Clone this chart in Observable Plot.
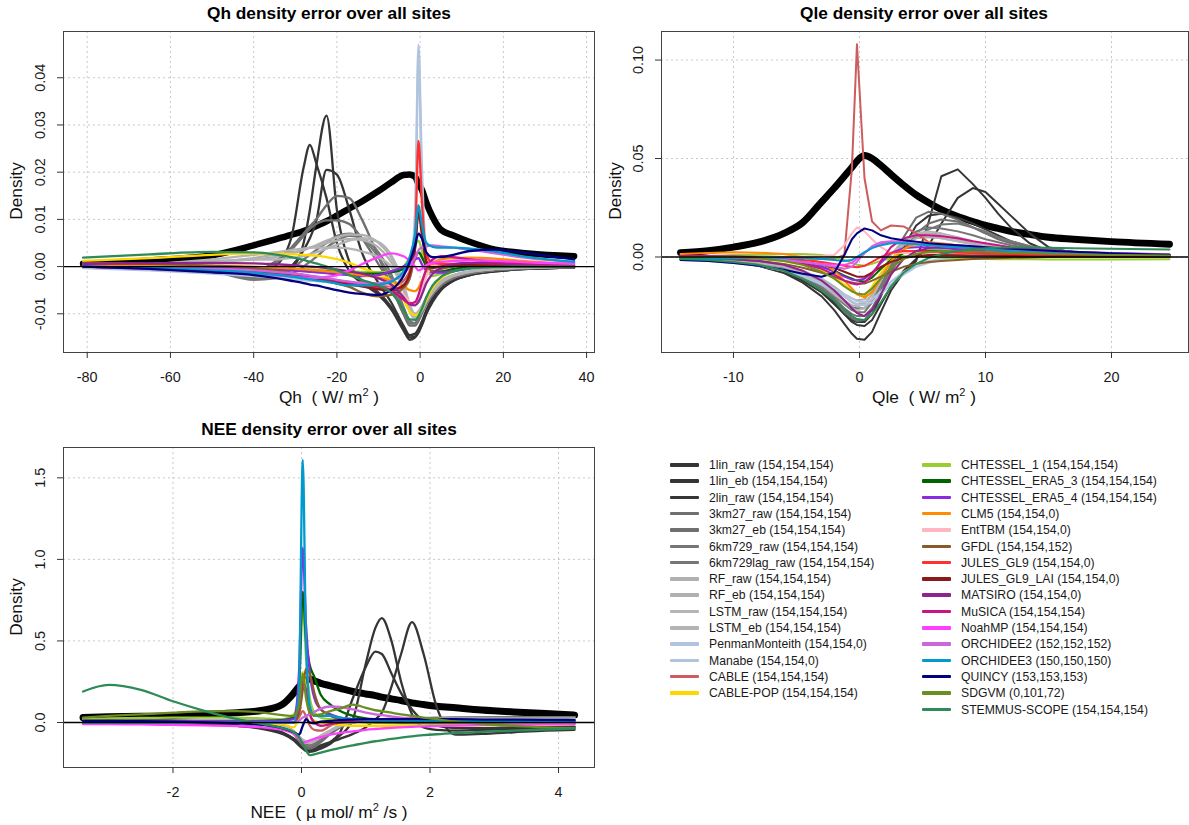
<!DOCTYPE html>
<html><head><meta charset="utf-8">
<script src="https://cdn.jsdelivr.net/npm/d3@7"></script>
<script src="https://cdn.jsdelivr.net/npm/@observablehq/plot@0.6"></script>
<style>
body{margin:0;background:#fff;font-family:"Liberation Sans",Arial,Helvetica,sans-serif;}
#root{position:relative;width:1189px;height:825px;overflow:hidden;background:#fff;}
.panel{position:absolute;}
.title{position:absolute;font-weight:bold;font-size:17.3px;transform:translate(-50%,-50%);white-space:nowrap;color:#000;}
.xlab{position:absolute;font-size:17.3px;transform:translate(-50%,-50%);white-space:nowrap;color:#111;}
.xlab sup{font-size:11px;vertical-align:7px;line-height:0;}
.ylab{position:absolute;font-size:17.3px;transform:translate(-50%,-50%) rotate(-90deg);white-space:nowrap;color:#111;}
.legrow{position:absolute;height:16px;font-size:12.2px;color:#1a1a1a;white-space:nowrap;}
.legrow span.sw{position:absolute;left:0;top:6px;width:29px;height:3.6px;border-radius:1px;}
.legrow span.tx{position:absolute;left:39px;top:0;line-height:16px;}
</style></head>
<body><div id="root"></div>
<script>
// ---------------- series ----------------
const seriesNames = ["1lin_raw","1lin_eb","2lin_raw","3km27_raw","3km27_eb","6km729_raw","6km729lag_raw","RF_raw","RF_eb","LSTM_raw","LSTM_eb","PenmanMonteith","Manabe","CABLE","CABLE-POP","CHTESSEL_1","CHTESSEL_ERA5_3","CHTESSEL_ERA5_4","CLM5","EntTBM","GFDL","JULES_GL9","JULES_GL9_LAI","MATSIRO","MuSICA","NoahMP","ORCHIDEE2","ORCHIDEE3","QUINCY","SDGVM","STEMMUS-SCOPE"];
const qhSites  = [154,154,154,154,154,154,154,154,154,154,154,154,154,154,154,154,154,154,154,154,154,154,154,154,154,154,152,150,153,0,154];
const qleSites = [154,154,154,154,154,154,154,154,154,154,154,154,154,154,154,154,154,154,154,154,154,154,154,154,154,154,152,150,153,101,154];
const neeSites = [154,154,154,154,154,154,154,154,154,154,154,0,0,154,154,154,154,154,0,0,152,0,0,0,154,154,152,150,153,72,154];
const seriesColors = ["#353535","#353535","#353535","#6f6f6f","#6f6f6f","#767676","#767676","#b0b0b0","#b0b0b0","#b4b4b4","#b4b4b4","#b0c4de","#b0c4de","#cd5c5c","#ffd700","#9acd32","#006400","#8a2be2","#ff8c00","#ffb6c1","#8b5a2b","#ff3030","#8b1a1a","#8e2490","#c71585","#ff40ff","#cc66dd","#009acd","#000080","#6b8e23","#2e8b57"];

// ---------------- Qh panel ----------------
const qhX = [-81,-65,-50,-40,-35,-31,-28,-26.5,-25,-22.5,-20,-17,-14,-10,-7,-4,-2.5,-1.2,-0.4,0.4,1.5,3,5,8,12,18,26,37];
const qhObs = [0.0006,0.0013,0.0024,0.0045,0.0057,0.0067,0.0075,0.008,0.0086,0.0096,0.0108,0.0123,0.0138,0.016,0.0178,0.0194,0.0195,0.019,0.0175,0.0163,0.0135,0.0105,0.0078,0.0066,0.0052,0.0036,0.0028,0.0022];
const qhDensity = [
/*1lin_raw*/ [0,-0.0003,-0.0008,-0.0015,0,0.006,0.021,0.0258,0.022,0.0145,0.005,-0.001,-0.0035,-0.006,-0.009,-0.0135,-0.0155,-0.015,-0.014,-0.0125,-0.01,-0.0075,-0.005,-0.003,-0.0018,-0.001,-0.0005,-0.0002],
/*1lin_eb*/ [0,-0.0003,-0.0009,-0.002,-0.0022,-0.0005,0.005,0.012,0.021,0.032,0.012,0.001,-0.003,-0.0055,-0.0085,-0.013,-0.015,-0.0148,-0.0138,-0.0122,-0.0097,-0.0072,-0.0049,-0.003,-0.0018,-0.001,-0.0005,-0.0002],
/*2lin_raw*/ [0,-0.0003,-0.001,-0.0025,-0.002,0,0.0035,0.006,0.0095,0.0205,0.0195,0.012,0.003,-0.0035,-0.0075,-0.0125,-0.0145,-0.0142,-0.0132,-0.0117,-0.0092,-0.0067,-0.0046,-0.0028,-0.0016,-0.0009,-0.0004,-0.0002],
/*3km27_raw*/ [0,0,-0.0005,-0.001,0.001,0.004,0.007,0.0085,0.01,0.013,0.015,0.0145,0.01,0.002,-0.004,-0.01,-0.0125,-0.0125,-0.0115,-0.01,-0.008,-0.006,-0.004,-0.0025,-0.0015,-0.0008,-0.0004,-0.0001],
/*3km27_eb*/ [0,0,-0.0005,-0.0012,0.0005,0.0035,0.0065,0.008,0.009,0.0098,0.0098,0.009,0.006,0.0005,-0.004,-0.01,-0.012,-0.012,-0.011,-0.0095,-0.0075,-0.0055,-0.0038,-0.0023,-0.0014,-0.0007,-0.0003,-0.0001],
/*6km729_raw*/ [0,0,-0.001,-0.0025,-0.002,-0.0005,0.0015,0.0025,0.0035,0.005,0.0065,0.007,0.006,0.002,-0.0025,-0.009,-0.012,-0.012,-0.011,-0.0095,-0.0075,-0.0055,-0.0038,-0.0023,-0.0014,-0.0007,-0.0003,-0.0001],
/*6km729lag_raw*/ [0,-0.0002,-0.001,-0.0028,-0.0025,-0.0015,0,0.001,0.002,0.004,0.0055,0.0065,0.006,0.003,-0.0015,-0.0085,-0.0115,-0.012,-0.011,-0.0095,-0.0075,-0.0055,-0.0038,-0.0023,-0.0014,-0.0007,-0.0003,-0.0001],
/*RF_raw*/ [0,0.0005,0.0012,0.0015,0.002,0.0028,0.0035,0.004,0.0045,0.0055,0.0062,0.0068,0.0067,0.005,0.002,-0.004,-0.0085,-0.01,-0.0095,-0.0085,-0.0065,-0.0045,-0.003,-0.0018,-0.001,-0.0005,-0.0002,0],
/*RF_eb*/ [0,0.0003,0.001,0.0018,0.0025,0.003,0.0035,0.004,0.0042,0.005,0.0055,0.0058,0.0056,0.004,0.001,-0.0045,-0.009,-0.0105,-0.01,-0.009,-0.007,-0.005,-0.0032,-0.002,-0.0011,-0.0005,-0.0002,0],
/*LSTM_raw*/ [0,0.0005,0.0015,0.0025,0.003,0.0035,0.0038,0.004,0.004,0.004,0.004,0.0038,0.0032,0.002,0,-0.005,-0.0095,-0.011,-0.0105,-0.0095,-0.0075,-0.0055,-0.0035,-0.002,-0.0011,-0.0005,-0.0002,0],
/*LSTM_eb*/ [0,0.0002,0.0008,0.0015,0.0015,0.0018,0.0022,0.0026,0.003,0.0038,0.0046,0.0055,0.006,0.0052,0.0025,-0.0035,-0.008,-0.01,-0.0095,-0.0085,-0.0065,-0.0045,-0.003,-0.0018,-0.001,-0.0005,-0.0002,0],
/*PenmanMonteith*/ [-0.0002,-0.0006,-0.0012,-0.0015,-0.0018,-0.002,-0.0023,-0.0025,-0.0026,-0.0028,-0.003,-0.0033,-0.0036,-0.004,-0.004,-0.0035,-0.001,0.012,0.047,0.022,0.002,-0.0005,0.0005,0.0012,0.0015,0.0013,0.0008,0.0004],
/*Manabe*/ [-0.0003,-0.0008,-0.0015,-0.002,-0.0023,-0.0026,-0.0029,-0.003,-0.0031,-0.0033,-0.0035,-0.0038,-0.0042,-0.0045,-0.0048,-0.0045,-0.0025,0.008,0.044,0.018,0,-0.002,-0.0015,-0.0005,0,0.0002,0.0001,0],
/*CABLE*/ [0,-0.0003,-0.0007,-0.001,-0.0013,-0.0016,-0.002,-0.0022,-0.0024,-0.0028,-0.0032,-0.0036,-0.004,-0.0042,-0.0042,-0.003,-0.001,0.0015,0.003,0.0025,0.001,0.0005,0.0005,0.0005,0.0004,0.0002,0.0001,0],
/*CABLE-POP*/ [0.0012,0.0018,0.0025,0.0028,0.0027,0.0026,0.0025,0.0024,0.0023,0.002,0.0016,0.0008,-0.0003,-0.0015,-0.003,-0.007,-0.0095,-0.0103,-0.01,-0.009,-0.007,-0.0045,-0.0025,-0.001,-0.0003,0,0,0],
/*CHTESSEL_1*/ [0.0001,0,-0.0002,-0.0003,-0.0004,-0.0005,-0.0006,-0.0006,-0.0007,-0.0008,-0.0009,-0.001,-0.0011,-0.0012,-0.001,0,0.002,0.0045,0.0055,0.0035,0,-0.002,-0.0015,-0.0008,-0.0003,0,0,0],
/*CHTESSEL_ERA5_3*/ [0,-0.0001,-0.0003,-0.0004,-0.0005,-0.0006,-0.0007,-0.0008,-0.0009,-0.001,-0.0012,-0.0014,-0.0015,-0.0015,-0.0012,-0.0005,0.0005,0.0025,0.003,0.002,0,-0.001,-0.001,-0.0005,-0.0002,0,0,0],
/*CHTESSEL_ERA5_4*/ [0.0002,0.0001,-0.0002,-0.0004,-0.0006,-0.0008,-0.001,-0.0011,-0.0012,-0.0014,-0.0016,-0.0018,-0.002,-0.0018,-0.001,0,0.001,0.0016,0.0018,0.0005,-0.0008,-0.0012,-0.0013,-0.001,-0.0004,0,0,0],
/*CLM5*/ [0.0003,0.0003,0.0002,0,-0.0002,-0.0004,-0.0006,-0.0007,-0.0008,-0.001,-0.0012,-0.0015,-0.0018,-0.0023,-0.003,-0.004,-0.005,-0.0052,-0.0045,-0.003,-0.001,0.0008,0.0015,0.0018,0.0019,0.0017,0.0011,0.0006],
/*EntTBM*/ [0,-0.0004,-0.0008,-0.0012,-0.0015,-0.0018,-0.002,-0.0022,-0.0024,-0.0027,-0.003,-0.0032,-0.0034,-0.0035,-0.004,-0.006,-0.0075,-0.008,-0.007,-0.005,-0.002,0,0.0008,0.001,0.0008,0.0005,0.0002,0.0001],
/*GFDL*/ [0.0008,0.0006,0.0002,-0.0003,-0.0008,-0.0013,-0.0018,-0.0021,-0.0024,-0.003,-0.0036,-0.0043,-0.0055,-0.0063,-0.006,-0.0045,-0.0025,0.004,0.0118,0.008,0.001,-0.001,-0.0005,0,0.0003,0.0003,0.0002,0.0001],
/*JULES_GL9*/ [0,-0.0003,-0.0006,-0.001,-0.0014,-0.0018,-0.0022,-0.0024,-0.0026,-0.003,-0.0033,-0.0036,-0.004,-0.0045,-0.0048,-0.004,-0.0015,0.006,0.0266,0.014,0.0025,0.0008,0.0006,0.0005,0.0003,0.0002,0.0001,0],
/*JULES_GL9_LAI*/ [0,-0.0003,-0.0007,-0.0012,-0.0016,-0.002,-0.0023,-0.0025,-0.0027,-0.003,-0.0034,-0.0038,-0.0042,-0.0048,-0.005,-0.004,-0.0015,0.004,0.0115,0.007,0.001,-0.0003,0,0.0003,0.0003,0.0002,0.0001,0],
/*MATSIRO*/ [0.0006,0.0007,0.0008,0.0007,0.0005,0.0003,0.0001,0,-0.0001,-0.0003,-0.0006,-0.001,-0.0015,-0.0025,-0.0038,-0.0065,-0.008,-0.0082,-0.0075,-0.006,-0.0035,-0.0015,-0.0003,0.0005,0.0008,0.0007,0.0004,0.0002],
/*MuSICA*/ [0,-0.0003,-0.0007,-0.001,-0.0013,-0.0016,-0.0019,-0.0021,-0.0023,-0.0026,-0.003,-0.0034,-0.0038,-0.0042,-0.005,-0.007,-0.0078,-0.0075,-0.006,-0.0035,-0.0005,0.0015,0.0022,0.002,0.0015,0.001,0.0005,0.0002],
/*NoahMP*/ [0,-0.0005,-0.001,-0.0015,-0.0018,-0.0021,-0.0023,-0.0024,-0.0024,-0.0022,-0.0018,-0.0008,0.0005,0.002,0.0028,0.0022,0.0012,0,-0.0008,-0.0005,0.0003,0.0008,0.001,0.0012,0.0013,0.0012,0.0009,0.0006],
/*ORCHIDEE2*/ [0,-0.0002,-0.0005,-0.0008,-0.0011,-0.0014,-0.0017,-0.0019,-0.0021,-0.0024,-0.0028,-0.0032,-0.0035,-0.0035,-0.003,-0.0015,0,0.002,0.0035,0.004,0.0043,0.0045,0.0043,0.004,0.0036,0.0028,0.0018,0.001],
/*ORCHIDEE3*/ [0,-0.0003,-0.0008,-0.0013,-0.0017,-0.0021,-0.0025,-0.0027,-0.0029,-0.0032,-0.0036,-0.004,-0.004,-0.0038,-0.0032,-0.001,0.002,0.007,0.013,0.009,0.005,0.0042,0.004,0.004,0.0038,0.0032,0.002,0.001],
/*QUINCY*/ [0,-0.0005,-0.0012,-0.0018,-0.0024,-0.003,-0.0035,-0.0038,-0.004,-0.0045,-0.005,-0.0055,-0.0058,-0.006,-0.005,-0.002,0.001,0.0045,0.007,0.006,0.003,0.002,0.002,0.0025,0.0033,0.0036,0.0028,0.0015],
/*SDGVM*/ null,
/*STEMMUS-SCOPE*/ [0.0019,0.0026,0.0031,0.003,0.0026,0.002,0.0014,0.001,0.0007,0,-0.0008,-0.0018,-0.0028,-0.004,-0.0055,-0.009,-0.0112,-0.0113,-0.0105,-0.009,-0.0065,-0.004,-0.0022,-0.001,-0.0004,-0.0001,0,0]
];
const qhXTicks = [-80,-60,-40,-20,0,20,40];
const qhYTicks = [-0.01,0,0.01,0.02,0.03,0.04];

// ---------------- Qle panel ----------------
const qleX = [-14.2,-12,-10,-8,-6,-4.5,-3,-2,-1.2,-0.6,-0.2,0.4,1,1.7,2.5,3.5,4.5,5.5,6.5,7.8,9,10,11,12,13.5,15,17,20,24.6];
const qleObs = [0.0022,0.0032,0.005,0.0075,0.012,0.0175,0.028,0.035,0.041,0.0455,0.0487,0.0515,0.05,0.0465,0.042,0.0365,0.0315,0.0275,0.024,0.0205,0.018,0.016,0.0145,0.013,0.0115,0.01,0.009,0.0078,0.0065];
const qleDensity = [
/*1lin_raw*/ [-0.001,-0.0015,-0.0025,-0.0045,-0.008,-0.013,-0.02,-0.027,-0.034,-0.039,-0.0415,-0.042,-0.038,-0.028,-0.017,-0.008,-0.002,0.018,0.041,0.0445,0.037,0.03,0.022,0.015,0.007,0.003,0.001,0.0005,0.0002],
/*1lin_eb*/ [-0.001,-0.0015,-0.0025,-0.004,-0.007,-0.011,-0.017,-0.023,-0.029,-0.033,-0.0345,-0.035,-0.032,-0.024,-0.015,-0.007,-0.001,0.006,0.017,0.03,0.035,0.033,0.027,0.021,0.012,0.005,0.002,0.0008,0.0003],
/*2lin_raw*/ [-0.001,-0.0015,-0.0025,-0.0045,-0.008,-0.012,-0.018,-0.024,-0.029,-0.032,-0.033,-0.033,-0.029,-0.02,-0.008,0.005,0.016,0.021,0.022,0.02,0.017,0.014,0.011,0.008,0.005,0.003,0.0015,0.0008,0.0003],
/*3km27_raw*/ [-0.001,-0.0015,-0.0025,-0.004,-0.007,-0.011,-0.017,-0.022,-0.028,-0.031,-0.0325,-0.032,-0.027,-0.017,-0.005,0.01,0.02,0.023,0.022,0.019,0.015,0.012,0.009,0.007,0.005,0.0035,0.0025,0.0015,0.0008],
/*3km27_eb*/ [-0.001,-0.0015,-0.0023,-0.0038,-0.0065,-0.01,-0.016,-0.021,-0.026,-0.029,-0.03,-0.03,-0.026,-0.018,-0.008,0.003,0.012,0.017,0.019,0.018,0.015,0.012,0.01,0.008,0.0055,0.004,0.0025,0.0015,0.0008],
/*6km729_raw*/ [-0.001,-0.0015,-0.0022,-0.0035,-0.006,-0.0095,-0.015,-0.02,-0.024,-0.027,-0.028,-0.028,-0.023,-0.014,-0.004,0.007,0.013,0.015,0.0145,0.013,0.011,0.009,0.0075,0.006,0.0045,0.0035,0.0025,0.0015,0.0008],
/*6km729lag_raw*/ [-0.001,-0.0015,-0.002,-0.0033,-0.0055,-0.009,-0.014,-0.019,-0.023,-0.0255,-0.026,-0.026,-0.022,-0.015,-0.006,0.004,0.01,0.014,0.0165,0.017,0.015,0.013,0.01,0.008,0.0055,0.004,0.0025,0.0015,0.0008],
/*RF_raw*/ [-0.0005,-0.001,-0.0015,-0.0025,-0.0045,-0.0075,-0.012,-0.016,-0.02,-0.023,-0.024,-0.0235,-0.019,-0.011,-0.002,0.007,0.0115,0.012,0.011,0.009,0.007,0.0055,0.0045,0.0035,0.0025,0.002,0.0015,0.001,0.0005],
/*RF_eb*/ [-0.0005,-0.001,-0.0015,-0.0023,-0.004,-0.007,-0.011,-0.015,-0.019,-0.021,-0.022,-0.0215,-0.017,-0.01,-0.002,0.006,0.0095,0.01,0.0095,0.008,0.0065,0.0055,0.0045,0.0035,0.0025,0.002,0.0015,0.001,0.0005],
/*LSTM_raw*/ [-0.0008,-0.0012,-0.0018,-0.003,-0.005,-0.0085,-0.014,-0.019,-0.023,-0.026,-0.027,-0.026,-0.021,-0.012,-0.002,0.008,0.012,0.013,0.012,0.01,0.008,0.0065,0.005,0.004,0.003,0.0022,0.0016,0.001,0.0005],
/*LSTM_eb*/ [-0.0008,-0.0012,-0.0018,-0.0028,-0.0048,-0.008,-0.013,-0.018,-0.022,-0.0245,-0.025,-0.024,-0.019,-0.01,0.001,0.009,0.011,0.0105,0.0095,0.008,0.0065,0.0055,0.0045,0.0035,0.0025,0.002,0.0015,0.001,0.0005],
/*PenmanMonteith*/ [-0.0015,-0.002,-0.003,-0.0045,-0.007,-0.01,-0.014,-0.017,-0.02,-0.0225,-0.024,-0.0245,-0.023,-0.019,-0.014,-0.009,-0.005,-0.003,-0.0015,-0.0005,0,0.0003,0.0004,0.0005,0.0005,0.0005,0.0004,0.0003,0.0002],
/*Manabe*/ [-0.0013,-0.0018,-0.0028,-0.0042,-0.0065,-0.0095,-0.013,-0.016,-0.019,-0.021,-0.0225,-0.023,-0.0215,-0.0175,-0.0125,-0.0075,-0.004,-0.002,-0.001,-0.0003,0,0.0002,0.0003,0.0004,0.0004,0.0004,0.0003,0.0002,0.0001],
/*CABLE*/ [0.0005,0.0005,0.0005,0.0003,0,-0.0005,-0.001,-0.001,0.001,0.045,0.108,0.04,0.018,0.0135,0.016,0.0155,0.012,0.0075,0.0055,0.0035,0.0025,0.002,0.0018,0.0015,0.0013,0.0011,0.001,0.0008,0.0005],
/*CABLE-POP*/ [0,0,-0.0003,-0.0008,-0.002,-0.004,-0.007,-0.01,-0.014,-0.017,-0.019,-0.02,-0.015,-0.008,-0.001,0.004,0.006,0.0065,0.006,0.005,0.0045,0.004,0.0035,0.003,0.0025,0.002,0.0015,0.001,0.0005],
/*CHTESSEL_1*/ [0,0.0005,0.001,0.0013,0.0015,0.0015,0.001,0,-0.0015,-0.003,-0.004,-0.0045,-0.0035,-0.002,-0.0005,0.0005,0.0005,0,-0.0003,-0.0006,-0.0008,-0.001,-0.0011,-0.0012,-0.0012,-0.0013,-0.0013,-0.0013,-0.0012],
/*CHTESSEL_ERA5_3*/ [0,0,-0.0002,-0.0005,-0.0015,-0.003,-0.005,-0.007,-0.0095,-0.011,-0.012,-0.0125,-0.0105,-0.006,-0.0015,0.002,0.003,0.0033,0.0033,0.003,0.0027,0.0025,0.0023,0.002,0.0018,0.0015,0.0012,0.001,0.0006],
/*CHTESSEL_ERA5_4*/ [0.0003,0.0003,0.0002,0,-0.001,-0.0025,-0.005,-0.0075,-0.01,-0.0115,-0.0118,-0.011,-0.008,-0.003,0.002,0.0045,0.005,0.005,0.0045,0.004,0.0035,0.003,0.0027,0.0024,0.002,0.0017,0.0014,0.001,0.0006],
/*CLM5*/ [0.0015,0.002,0.0024,0.0022,0.0015,0,-0.003,-0.007,-0.012,-0.016,-0.019,-0.0205,-0.018,-0.011,-0.002,0.004,0.007,0.0075,0.007,0.006,0.005,0.0043,0.0038,0.0033,0.0028,0.0023,0.0018,0.0013,0.0008],
/*EntTBM*/ [0,0,0,0,0,0.0003,0.0005,0.001,0.006,0.012,0.015,0.013,0.009,0.005,0.002,0.002,0.002,0.002,0.0018,0.0015,0.0013,0.0012,0.001,0.001,0.0008,0.0007,0.0005,0.0004,0.0003],
/*GFDL*/ [-0.0005,-0.0008,-0.0012,-0.002,-0.0035,-0.0055,-0.008,-0.01,-0.012,-0.013,-0.0135,-0.0135,-0.012,-0.01,-0.0075,-0.005,-0.0035,-0.0025,-0.002,-0.0015,-0.001,-0.0008,-0.0006,-0.0004,-0.0002,0,0.0001,0.0001,0.0001],
/*JULES_GL9*/ [0,0,-0.0002,-0.0005,-0.001,-0.0015,-0.0025,-0.0035,-0.0045,-0.005,-0.0052,-0.0045,-0.0025,0,0.002,0.003,0.003,0.0028,0.0025,0.0022,0.002,0.0018,0.0016,0.0014,0.0012,0.001,0.0008,0.0005,0.0003],
/*JULES_GL9_LAI*/ [0,0,-0.0003,-0.0008,-0.0015,-0.0025,-0.004,-0.0055,-0.0075,-0.009,-0.01,-0.01,-0.008,-0.005,-0.0025,-0.0005,0.0005,0.001,0.001,0.0009,0.0008,0.0007,0.0006,0.0005,0.0004,0.0003,0.0002,0.0001,0.0001],
/*MATSIRO*/ [-0.0005,-0.0008,-0.0012,-0.002,-0.004,-0.007,-0.012,-0.017,-0.022,-0.026,-0.0285,-0.03,-0.027,-0.019,-0.009,-0.001,0.003,0.0045,0.005,0.0048,0.0045,0.004,0.0036,0.0032,0.0027,0.0023,0.0018,0.0013,0.0008],
/*MuSICA*/ [0.0005,0.0005,0.0003,-0.0003,-0.0015,-0.0035,-0.006,-0.009,-0.012,-0.0135,-0.014,-0.013,-0.009,-0.002,0.005,0.0095,0.011,0.011,0.0105,0.0095,0.008,0.007,0.006,0.005,0.004,0.0033,0.0026,0.0018,0.0011],
/*NoahMP*/ [0,0,-0.0003,-0.0008,-0.0015,-0.0025,-0.0035,-0.004,-0.004,-0.003,-0.001,0.002,0.005,0.007,0.0075,0.007,0.0065,0.006,0.0055,0.005,0.0045,0.0042,0.004,0.0037,0.0033,0.003,0.0025,0.002,0.0014],
/*ORCHIDEE2*/ [0,0,-0.0003,-0.0008,-0.0015,-0.0025,-0.004,-0.005,-0.006,-0.005,-0.0025,0.002,0.0055,0.0075,0.008,0.008,0.0075,0.007,0.0065,0.006,0.0055,0.005,0.0045,0.004,0.0035,0.003,0.0025,0.002,0.0013],
/*ORCHIDEE3*/ [-0.001,-0.001,-0.0008,-0.0005,-0.0003,-0.0005,-0.001,-0.0015,-0.002,-0.0015,0,0.0025,0.0045,0.006,0.007,0.007,0.0065,0.006,0.0055,0.005,0.0045,0.004,0.0035,0.003,0.0025,0.002,0.0016,0.0012,0.0008],
/*QUINCY*/ [-0.0015,-0.002,-0.003,-0.0045,-0.0065,-0.0085,-0.01,-0.008,0.001,0.009,0.012,0.0145,0.0135,0.011,0.0095,0.0085,0.0078,0.007,0.0065,0.006,0.0055,0.005,0.0046,0.0042,0.0037,0.0032,0.0026,0.0019,0.0012],
/*SDGVM*/ [0,0,-0.0003,-0.0008,-0.002,-0.004,-0.0075,-0.011,-0.015,-0.0175,-0.0185,-0.019,-0.016,-0.011,-0.0055,-0.001,0.0015,0.0025,0.003,0.003,0.0028,0.0026,0.0024,0.0022,0.002,0.0017,0.0014,0.001,0.0007],
/*STEMMUS-SCOPE*/ [-0.001,-0.0015,-0.0025,-0.004,-0.007,-0.011,-0.017,-0.022,-0.027,-0.03,-0.0315,-0.032,-0.029,-0.023,-0.015,-0.008,-0.0035,-0.0005,0.0015,0.003,0.004,0.0045,0.0047,0.0048,0.0048,0.0047,0.0045,0.0042,0.0038]
];
const qleXTicks = [-10,0,10,20];
const qleYTicks = [0,0.05,0.10];

// ---------------- NEE panel ----------------
const neeX = [-3.4,-3,-2.5,-2,-1.5,-1,-0.6,-0.3,-0.12,-0.04,0.02,0.07,0.13,0.2,0.3,0.45,0.6,0.8,1,1.15,1.25,1.4,1.55,1.72,1.9,2.1,2.4,2.8,3.3,3.8,4.25];
const neeObs = [0.03,0.035,0.038,0.042,0.05,0.06,0.075,0.11,0.18,0.22,0.24,0.26,0.265,0.255,0.24,0.225,0.21,0.19,0.175,0.165,0.155,0.145,0.135,0.12,0.11,0.1,0.09,0.077,0.065,0.055,0.045];
const neeDensity = [
/*1lin_raw*/ [0,0,0,-0.005,-0.01,-0.02,-0.04,-0.07,-0.11,-0.14,-0.16,-0.175,-0.18,-0.175,-0.16,-0.13,-0.08,0.02,0.36,0.58,0.64,0.5,0.25,0.05,-0.03,-0.045,-0.05,-0.045,-0.04,-0.035,-0.03],
/*1lin_eb*/ [0,0,0,-0.005,-0.01,-0.02,-0.035,-0.065,-0.1,-0.13,-0.15,-0.165,-0.17,-0.165,-0.15,-0.12,-0.06,0.15,0.34,0.435,0.42,0.3,0.18,0.08,0.01,-0.02,-0.035,-0.035,-0.03,-0.028,-0.025],
/*2lin_raw*/ [0,0,0,-0.005,-0.01,-0.02,-0.035,-0.06,-0.1,-0.125,-0.145,-0.155,-0.16,-0.155,-0.14,-0.12,-0.1,-0.07,-0.03,0.02,0.06,0.22,0.42,0.615,0.42,0.1,-0.075,-0.07,-0.06,-0.05,-0.045],
/*3km27_raw*/ [0.01,0.01,0.01,0.008,0.005,0,-0.01,-0.03,-0.07,-0.11,-0.14,-0.155,-0.16,-0.15,-0.12,-0.07,-0.03,0,0.01,0.015,0.017,0.02,0.022,0.024,0.025,0.026,0.027,0.028,0.029,0.03,0.03],
/*3km27_eb*/ [0.012,0.012,0.011,0.009,0.006,0.001,-0.008,-0.025,-0.065,-0.1,-0.13,-0.145,-0.15,-0.14,-0.11,-0.065,-0.028,0,0.012,0.016,0.018,0.021,0.023,0.025,0.026,0.027,0.028,0.029,0.03,0.031,0.032],
/*6km729_raw*/ [0.015,0.015,0.013,0.01,0.007,0.002,-0.006,-0.022,-0.06,-0.095,-0.125,-0.14,-0.145,-0.135,-0.1,-0.06,-0.025,0.002,0.013,0.017,0.019,0.022,0.024,0.026,0.027,0.028,0.029,0.03,0.031,0.032,0.033],
/*6km729lag_raw*/ [0.014,0.014,0.012,0.01,0.007,0.002,-0.005,-0.02,-0.055,-0.09,-0.12,-0.135,-0.14,-0.13,-0.1,-0.058,-0.022,0.003,0.014,0.018,0.02,0.022,0.024,0.026,0.027,0.028,0.029,0.03,0.031,0.032,0.033],
/*RF_raw*/ [0.005,0.006,0.006,0.006,0.004,0,-0.008,-0.025,-0.06,-0.09,-0.11,-0.12,-0.12,-0.11,-0.085,-0.05,-0.02,0,0.008,0.012,0.014,0.016,0.018,0.019,0.02,0.021,0.022,0.022,0.022,0.022,0.022],
/*RF_eb*/ [0.005,0.006,0.006,0.006,0.004,0,-0.008,-0.023,-0.055,-0.085,-0.105,-0.115,-0.115,-0.105,-0.08,-0.047,-0.018,0.002,0.009,0.013,0.015,0.017,0.018,0.019,0.02,0.021,0.022,0.022,0.022,0.022,0.022],
/*LSTM_raw*/ [0.006,0.007,0.007,0.006,0.004,0,-0.01,-0.028,-0.065,-0.095,-0.115,-0.125,-0.125,-0.115,-0.09,-0.055,-0.022,0,0.008,0.012,0.014,0.016,0.018,0.019,0.02,0.021,0.022,0.022,0.022,0.022,0.022],
/*LSTM_eb*/ [0.006,0.007,0.007,0.006,0.004,0,-0.009,-0.026,-0.06,-0.09,-0.11,-0.12,-0.12,-0.11,-0.085,-0.052,-0.02,0.001,0.009,0.013,0.015,0.017,0.018,0.019,0.02,0.021,0.022,0.022,0.022,0.022,0.022],
/*PenmanMonteith*/ null,
/*Manabe*/ null,
/*CABLE*/ [0.005,0.005,0.005,0.005,0.004,0.003,0.002,0,0,0.03,0.07,0.04,-0.02,-0.045,-0.05,-0.02,0,0.01,0.012,0.012,0.012,0.012,0.011,0.011,0.01,0.01,0.01,0.009,0.009,0.008,0.008],
/*CABLE-POP*/ [0,0,0,0,0,0,-0.005,-0.01,-0.03,0.05,0.31,0.22,0.05,0.01,0,-0.01,-0.015,-0.02,-0.02,-0.02,-0.02,-0.02,-0.02,-0.02,-0.02,-0.02,-0.018,-0.016,-0.014,-0.012,-0.01],
/*CHTESSEL_1*/ [0.02,0.025,0.028,0.03,0.03,0.03,0.025,0.02,0.05,0.2,0.72,0.4,0.15,0.06,0.03,0.02,0.01,0.005,0,-0.002,-0.003,-0.004,-0.005,-0.006,-0.007,-0.008,-0.009,-0.01,-0.01,-0.01,-0.01],
/*CHTESSEL_ERA5_3*/ [0.01,0.01,0.01,0.01,0.01,0.01,0.01,0.015,0.03,0.2,0.8,0.5,0.35,0.28,0.17,0.11,0.07,0.04,0.025,0.02,0.018,0.015,0.012,0.01,0.008,0.006,0.004,0.002,0,0,0],
/*CHTESSEL_ERA5_4*/ [0.01,0.01,0.01,0.01,0.01,0.01,0.01,0.012,0.02,0.3,1.07,0.6,0.3,0.15,0.08,0.05,0.03,0.02,0.015,0.013,0.012,0.011,0.011,0.01,0.01,0.01,0.01,0.01,0.01,0.01,0.01],
/*CLM5*/ null,
/*EntTBM*/ null,
/*GFDL*/ [0,0,0,0,0,0,0,0,0,0.05,0.2,0.33,0.3,0.18,0.08,0.04,0.02,0.01,0.005,0.003,0.002,0.001,0,0,0,0,0,0,0,0,0],
/*JULES_GL9*/ null,
/*JULES_GL9_LAI*/ null,
/*MATSIRO*/ null,
/*MuSICA*/ [0,0,0,0,0,0,0,0,0,0.1,0.25,0.2,0.05,0,-0.02,-0.01,0,0.005,0.005,0.005,0.005,0.005,0.005,0.005,0.005,0.005,0.005,0.004,0.003,0.002,0.002],
/*NoahMP*/ [-0.01,-0.01,-0.012,-0.015,-0.018,-0.022,-0.03,-0.045,-0.07,-0.1,-0.12,-0.12,-0.11,-0.1,-0.09,-0.075,-0.065,-0.055,-0.045,-0.04,-0.037,-0.033,-0.03,-0.027,-0.024,-0.022,-0.019,-0.016,-0.013,-0.011,-0.01],
/*ORCHIDEE2*/ [0,0,0,0,0,0,0,0,0,0.01,0.03,0.04,0.05,0.065,0.085,0.098,0.095,0.08,0.06,0.05,0.045,0.037,0.03,0.025,0.02,0.015,0.01,0.005,0,0,0],
/*ORCHIDEE3*/ [0,0,0,0,0,0,0,0,0,0.2,1.61,0.5,0.1,0.04,0.04,0.04,0.03,0.02,0.015,0.013,0.012,0.011,0.011,0.01,0.01,0.01,0.01,0.01,0.01,0.01,0.01],
/*QUINCY*/ [0.01,0.01,0.008,0.005,0,-0.005,-0.015,-0.035,-0.06,-0.075,-0.02,0.02,0,-0.005,0.005,0.01,0.015,0.018,0.02,0.02,0.02,0.02,0.02,0.02,0.02,0.02,0.02,0.018,0.017,0.016,0.015],
/*SDGVM*/ [0.03,0.04,0.05,0.06,0.068,0.07,0.06,0.045,0.04,0.1,0.3,0.15,0.06,0.045,0.05,0.07,0.085,0.11,0.09,0.075,0.07,0.06,0.05,0.04,0.03,0.02,0.005,-0.01,-0.02,-0.03,-0.035],
/*STEMMUS-SCOPE*/ [0.19,0.23,0.2,0.13,0.07,0.02,-0.01,-0.035,-0.06,-0.09,-0.13,-0.17,-0.2,-0.195,-0.185,-0.17,-0.155,-0.14,-0.125,-0.115,-0.11,-0.1,-0.093,-0.085,-0.078,-0.072,-0.065,-0.058,-0.05,-0.043,-0.037]
];
const neeXTicks = [-2,0,2,4];
const neeYTicks = [0,0.5,1.0,1.5];

// ---------------- drawing ----------------
const FONT = '"Liberation Sans", Arial, Helvetica, sans-serif';
const root = document.getElementById("root");

function rowsOf(xs, ys) { return xs.map((x, i) => ({x, y: ys[i]})); }

function drawPanel(o) {
  const marks = [
    Plot.gridX(o.xTicks, {stroke: "#c9c9c9", strokeOpacity: 1, strokeDasharray: "2,3"}),
    Plot.gridY(o.yTicks, {stroke: "#c9c9c9", strokeOpacity: 1, strokeDasharray: "2,3"}),
    Plot.line(rowsOf(o.xs, o.obs), {x: "x", y: "y", stroke: "#000", strokeWidth: o.obsWidth, curve: "monotone-x", strokeLinecap: "round", strokeLinejoin: "round"})
  ];
  o.density.forEach((ys, k) => {
    if (!ys) return;
    marks.push(Plot.line(rowsOf(o.xs, ys), {x: "x", y: "y", stroke: seriesColors[k], strokeWidth: o.lineWidth, curve: o.curve, strokeLinejoin: "round"}));
  });
  marks.push(Plot.ruleY([0], {stroke: "#000", strokeWidth: 1.3}));
  marks.push(Plot.frame({stroke: "#444", strokeWidth: 1}));
  marks.push(Plot.axisX(o.xTicks, {tickSize: 6, tickPadding: 13, tickFormat: d => String(d), label: null, stroke: "#333", fill: "#1a1a1a"}));
  marks.push(Plot.axisY(o.yTicks, {tickSize: 6, tickPadding: 17, tickRotate: -90, textAnchor: "middle", lineAnchor: "middle", tickFormat: d => d.toFixed(o.yDigits), label: null, stroke: "#333", fill: "#1a1a1a"}));
  const svg = Plot.plot({
    width: o.width, height: o.height,
    marginLeft: o.ml, marginRight: o.mr, marginTop: o.mt, marginBottom: o.mb,
    x: {domain: o.xDomain}, y: {domain: o.yDomain},
    style: {fontFamily: FONT, fontSize: "14.4px", background: "transparent", overflow: "visible", color: "#1a1a1a"},
    marks
  });
  const wrap = document.createElement("div");
  wrap.className = "panel";
  wrap.style.left = o.left + "px";
  wrap.style.top = o.top + "px";
  wrap.appendChild(svg);
  root.appendChild(wrap);
}

function addText(cls, html, x, y) {
  const d = document.createElement("div");
  d.className = cls; d.innerHTML = html;
  d.style.left = x + "px"; d.style.top = y + "px";
  root.appendChild(d);
}

drawPanel({left: 0, top: 0, width: 600, height: 410, ml: 63, mr: 6, mt: 31, mb: 58,
  xs: qhX, obs: qhObs, density: qhDensity, xDomain: [-85.7, 41.9], yDomain: [-0.0182, 0.0498],
  xTicks: qhXTicks, yTicks: qhYTicks, yDigits: 2, curve: "monotone-x", obsWidth: 6.5, lineWidth: 2.3});
drawPanel({left: 600, top: 0, width: 589, height: 410, ml: 61, mr: 1, mt: 31, mb: 58,
  xs: qleX, obs: qleObs, density: qleDensity, xDomain: [-15.71, 26.11], yDomain: [-0.0485, 0.1145],
  xTicks: qleXTicks, yTicks: qleYTicks, yDigits: 2, curve: "linear", obsWidth: 7, lineWidth: 2});
drawPanel({left: 0, top: 415, width: 600, height: 410, ml: 63, mr: 6, mt: 32, mb: 58,
  xs: neeX, obs: neeObs, density: neeDensity, xDomain: [-3.704, 4.56], yDomain: [-0.276, 1.686],
  xTicks: neeXTicks, yTicks: neeYTicks, yDigits: 1, curve: "monotone-x", obsWidth: 7, lineWidth: 2.3});

addText("title", "Qh density error over all sites", 329, 13);
addText("title", "Qle density error over all sites", 924, 13);
addText("title", "NEE density error over all sites", 329, 429);
addText("xlab", "Qh&nbsp; ( W/ m<sup>2</sup> )", 329, 397);
addText("xlab", "Qle&nbsp; ( W/ m<sup>2</sup> )", 924, 397);
addText("xlab", "NEE&nbsp; ( &micro; mol/ m<sup>2</sup> /s )", 329, 812);
addText("ylab", "Density", 16, 191);
addText("ylab", "Density", 615, 191);
addText("ylab", "Density", 16, 607);

// legend
seriesNames.forEach((name, i) => {
  const col = i < 15 ? 0 : 1;
  const r = col === 0 ? i : i - 15;
  const row = document.createElement("div");
  row.className = "legrow";
  row.style.left = (col === 0 ? 670 : 922) + "px";
  row.style.top = (465 + r * 16.3 - 8) + "px";
  row.innerHTML = `<span class="sw" style="background:${seriesColors[i]}"></span><span class="tx">${name} (${qhSites[i]},${qleSites[i]},${neeSites[i]})</span>`;
  root.appendChild(row);
});
</script>
</body></html>
